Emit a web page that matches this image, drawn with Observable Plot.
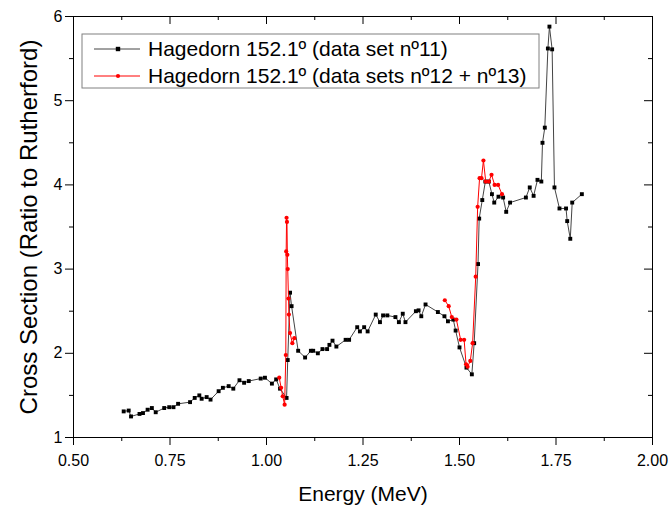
<!DOCTYPE html>
<html><head><meta charset="utf-8">
<script src="https://cdn.jsdelivr.net/npm/d3@7"></script>
<script src="https://cdn.jsdelivr.net/npm/@observablehq/plot@0.6"></script>
<style>body{margin:0;background:#fff;} #chart{width:669px;height:506px;}</style>
</head><body><div id="chart"></div>
<script>
// Data set nº11 (black)
const set11Energy = [0.630,0.643,0.649,0.671,0.680,0.692,0.703,0.713,0.735,0.748,0.759,0.771,0.802,0.814,0.826,0.832,0.845,0.855,0.876,0.887,0.902,0.914,0.930,0.942,0.954,0.985,0.996,1.014,1.025,1.035,1.052,1.055,1.061,1.065,1.082,1.100,1.115,1.121,1.133,1.145,1.157,1.163,1.171,1.181,1.205,1.214,1.235,1.242,1.253,1.262,1.283,1.294,1.302,1.313,1.334,1.343,1.353,1.360,1.387,1.394,1.401,1.412,1.444,1.461,1.470,1.484,1.490,1.500,1.518,1.532,1.538,1.548,1.551,1.559,1.567,1.576,1.584,1.590,1.601,1.613,1.621,1.631,1.672,1.682,1.692,1.702,1.712,1.715,1.721,1.729,1.733,1.740,1.746,1.759,1.776,1.779,1.787,1.792,1.817];
const set11Ratio = [1.31,1.32,1.25,1.28,1.29,1.33,1.35,1.30,1.35,1.36,1.36,1.40,1.42,1.47,1.50,1.46,1.48,1.45,1.55,1.59,1.61,1.58,1.68,1.65,1.67,1.70,1.71,1.64,1.69,1.58,1.47,1.92,2.72,2.56,2.03,1.95,2.03,2.03,2.00,2.05,2.05,2.10,2.15,2.08,2.16,2.16,2.31,2.26,2.31,2.26,2.46,2.37,2.45,2.45,2.43,2.37,2.47,2.37,2.50,2.51,2.44,2.58,2.49,2.44,2.38,2.40,2.27,2.07,1.83,1.75,2.12,3.06,3.60,3.82,4.04,4.04,3.89,3.79,3.86,3.85,3.68,3.79,3.85,3.97,3.87,4.06,4.04,4.50,4.68,5.62,5.88,5.61,3.97,3.72,3.72,3.57,3.36,3.79,3.89];

// Data sets nº12 + nº13 (red), two separate runs
const set1213Energy = [1.033,1.038,1.042,1.047,1.050,1.051,1.052,1.053,1.054,1.055,1.057,1.058,1.061,1.067,1.072,
  1.462,1.472,1.480,1.492,1.503,1.512,1.517,1.521,1.528,1.534,1.542,1.547,1.552,1.557,1.562,1.568,1.576,1.583,1.591,1.600,1.610];
const set1213Ratio = [1.71,1.59,1.49,1.39,1.98,3.21,3.61,3.56,3.17,3.00,2.65,2.46,2.24,2.12,2.18,
  2.63,2.56,2.43,2.40,2.16,2.16,1.87,1.84,1.91,2.12,2.91,3.74,4.08,4.08,4.29,4.04,4.04,4.12,4.00,4.00,3.89];
const set1213Run = [1,1,1,1,1,1,1,1,1,1,1,1,1,1,1,
  2,2,2,2,2,2,2,2,2,2,2,2,2,2,2,2,2,2,2,2,2];

const xTicks = [0.50,0.75,1.00,1.25,1.50,1.75,2.00];
const xMinorTicks = [0.625,0.875,1.125,1.375,1.625,1.875];
const yTicks = [1,2,3,4,5,6];
const yMinorTicks = [1.5,2.5,3.5,4.5,5.5];
const xTitle = "Energy (MeV)";
const yTitle = "Cross Section (Ratio to Rutherford)";
const legendLabels = ["Hagedorn 152.1º (data set nº11)", "Hagedorn 152.1º (data sets nº12 + nº13)"];
const legendColors = ["#000000", "#ff0000"];

const set11 = set11Energy.map((e, i) => ({e, r: set11Ratio[i]}));
const set1213 = set1213Energy.map((e, i) => ({e, r: set1213Ratio[i], run: set1213Run[i]}));

const W = 669, H = 506, mL = 73, mR = 17, mT = 16, mB = 69;
const fw = W - mL - mR, fh = H - mT - mB;
const font = "'Liberation Sans', Arial, sans-serif";

const chart = Plot.plot({
  width: W, height: H,
  marginLeft: mL, marginRight: mR, marginTop: mT, marginBottom: mB,
  style: {fontFamily: font, background: "white", color: "black", overflow: "visible"},
  x: {domain: [0.5, 2.0]},
  y: {domain: [1, 6]},
  marks: [
    Plot.axisX({ticks: xTicks, tickFormat: d3.format(".2f"), tickSize: 8, tickPadding: 9, fontSize: 16, label: null}),
    Plot.axisX({ticks: xMinorTicks, tickSize: 4, tickFormat: () => "", label: null}),
    Plot.axisY({ticks: yTicks, tickSize: 8, tickPadding: 3, fontSize: 16, tickFormat: d3.format("d"), label: null}),
    Plot.axisY({ticks: yMinorTicks, tickSize: 4, tickFormat: () => "", label: null}),
    Plot.tickX(xTicks, {x: d => d, insetBottom: fh - 8, stroke: "black"}),
    Plot.tickX(xMinorTicks, {x: d => d, insetBottom: fh - 4, stroke: "black"}),
    Plot.tickY(yTicks, {y: d => d, insetLeft: fw - 8, stroke: "black"}),
    Plot.tickY(yMinorTicks, {y: d => d, insetLeft: fw - 4, stroke: "black"}),
    Plot.frame({stroke: "black"}),
    Plot.line(set11, {x: "e", y: "r", stroke: "#444", strokeWidth: 1}),
    Plot.dot(set11, {x: "e", y: "r", symbol: "square", r: 2.2, fill: "black", stroke: null}),
    Plot.line(set1213, {x: "e", y: "r", z: "run", stroke: "#ff0000", strokeWidth: 1}),
    Plot.dot(set1213, {x: "e", y: "r", r: 2.1, fill: "#ff0000", stroke: null}),
    Plot.text([xTitle], {frameAnchor: "bottom", lineAnchor: "middle", textAnchor: "middle", dy: 57, fontSize: 21}),
    Plot.text([yTitle], {frameAnchor: "left", lineAnchor: "middle", textAnchor: "middle", rotate: -90, dx: -44, fontSize: 24})
  ]
});
document.getElementById("chart").appendChild(chart);

// Legend box inside the plot area
const svg = d3.select(chart);
const lg = svg.append("g").attr("font-family", font).attr("text-anchor", "start");
lg.append("rect").attr("x", 82).attr("y", 34).attr("width", 457).attr("height", 54)
  .attr("fill", "white").attr("stroke", "#808080").attr("stroke-width", 1);
legendLabels.forEach((lab, i) => {
  const y = 49 + i * 27;
  lg.append("line").attr("x1", 94).attr("x2", 140).attr("y1", y).attr("y2", y)
    .attr("stroke", i === 0 ? "#444" : legendColors[i]).attr("stroke-width", 1);
  if (i === 0) lg.append("rect").attr("x", 115.8).attr("y", y - 2.2).attr("width", 4.4).attr("height", 4.4).attr("fill", legendColors[i]);
  else lg.append("circle").attr("cx", 118).attr("cy", y).attr("r", 2.1).attr("fill", legendColors[i]);
  lg.append("text").attr("x", 148).attr("y", y).attr("dy", "0.35em").attr("font-size", 21)
    .attr("text-anchor", "start").attr("fill", "black").text(lab);
});
</script>
</body></html>
